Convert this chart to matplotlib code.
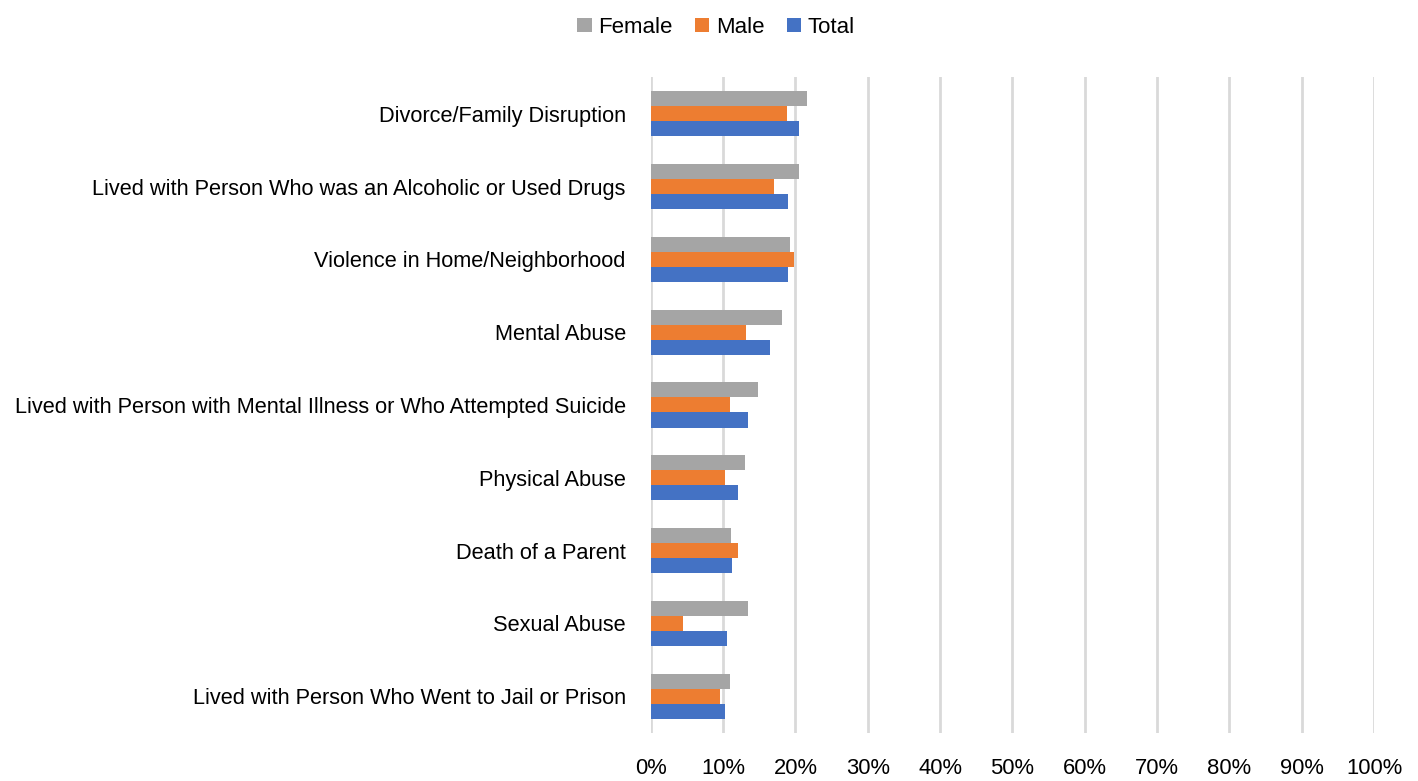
import matplotlib
matplotlib.use("Agg")
import matplotlib.pyplot as plt
import numpy as np

plt.rcParams['font.family'] = ['Liberation Sans', 'DejaVu Sans']

categories = [
    "Divorce/Family Disruption",
    "Lived with Person Who was an Alcoholic or Used Drugs",
    "Violence in Home/Neighborhood",
    "Mental Abuse",
    "Lived with Person with Mental Illness or Who Attempted Suicide",
    "Physical Abuse",
    "Death of a Parent",
    "Sexual Abuse",
    "Lived with Person Who Went to Jail or Prison",
]
female = [21.6, 20.5, 19.3, 18.1, 14.8, 13.0, 11.1, 13.5, 11.0]
male = [18.8, 17.0, 19.8, 13.1, 10.9, 10.3, 12.0, 4.4, 9.5]
total = [20.5, 19.0, 19.0, 16.5, 13.4, 12.0, 11.2, 10.5, 10.3]
xticks = list(range(0, 101, 10))
xticklabels = [f"{v}%" for v in xticks]

fig = plt.figure(figsize=(14.18, 7.81), dpi=100)
ax = fig.add_axes([0.459, 0.062, 0.510, 0.839])

y = np.arange(len(categories))
h = 0.207
c_f, c_m, c_t = '#A5A5A5', '#ED7D31', '#4472C4'
ax.barh(y - h, female, height=h, color=c_f, label='Female', zorder=3)
ax.barh(y, male, height=h, color=c_m, label='Male', zorder=3)
ax.barh(y + h, total, height=h, color=c_t, label='Total', zorder=3)

ax.set_ylim(len(categories) - 0.5, -0.5)
ax.set_xlim(0, 100)
ax.set_yticks(y)
ax.set_yticklabels(categories, fontsize=15.7)
ax.set_xticks(xticks)
ax.set_xticklabels(xticklabels, fontsize=15.8)
ax.tick_params(axis='both', length=0)
ax.tick_params(axis='y', pad=18)
ax.tick_params(axis='x', pad=18.6)
ax.grid(axis='x', color='#D9D9D9', linewidth=2, zorder=0)
for s in ax.spines.values():
    s.set_visible(False)

fig.legend(loc='upper center', bbox_to_anchor=(0.505, 1.004), ncol=3, frameon=False,
           fontsize=16, handlelength=0.65, handleheight=0.65, handletextpad=0.3,
           columnspacing=1.0)

fig.savefig('out.png', dpi=100)
